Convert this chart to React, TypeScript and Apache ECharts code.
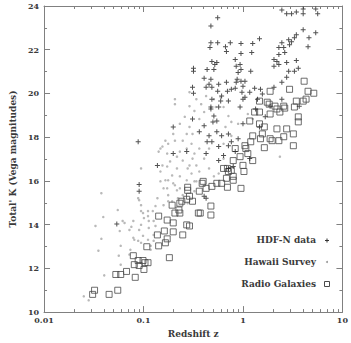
import React, { useEffect, useRef } from "react";
import * as echarts from "echarts";

// [redshift z, total K]
const hdfData: [number, number][] = [
  [2.46, 23.82], [2.75, 23.64], [3.08, 23.64], [3.44, 23.73], [4.03, 23.86], [4.03, 23.64], [5.39, 23.86], [5.64, 23.64],
  [0.557, 23.46], [0.476, 23.09], [0.476, 22.32], [0.466, 22.1], [0.557, 22.32], [0.667, 22.14], [0.682, 21.92],
  [0.746, 22.32], [0.955, 22.28], [1.253, 22.28], [1.466, 22.5], [0.955, 21.83], [1.225, 21.87], [0.318, 21.15],
  [0.318, 21.01], [0.487, 21.46], [0.521, 21.33], [0.546, 21.42], [0.436, 21.1], [0.51, 21.1], [0.836, 21.55],
  [0.935, 21.33], [0.855, 21.24], [0.955, 21.1], [0.894, 20.96], [1.197, 21.01], [0.407, 20.69], [0.476, 20.65],
  [0.456, 20.42], [0.487, 20.28], [0.426, 20.28], [0.57, 20.42], [0.682, 20.51], [0.874, 20.65], [0.955, 20.56],
  [1.0, 20.33], [0.311, 20.28], [0.318, 20.01], [0.557, 20.1], [0.61, 19.88], [0.698, 20.1], [0.836, 20.24],
  [0.977, 20.06], [1.0, 19.74], [0.487, 19.74], [0.597, 19.65], [0.714, 19.65], [0.476, 19.38], [0.57, 19.38],
  [0.935, 19.38], [1.31, 20.24], [1.5, 20.19], [1.17, 20.06], [1.4, 19.74], [1.047, 19.83], [4.03, 22.91],
  [5.39, 22.78], [3.44, 22.69], [3.29, 22.55], [3.08, 22.37], [2.94, 22.23], [2.88, 22.46], [2.46, 22.32],
  [2.296, 22.1], [2.57, 22.1], [4.51, 22.14], [4.61, 22.55], [2.05, 21.55], [2.296, 21.78], [2.63, 21.87],
  [2.194, 21.46], [2.296, 21.33], [2.05, 21.24], [2.75, 21.42], [3.44, 21.51], [2.88, 21.01], [3.29, 21.01],
  [3.6, 21.15], [2.46, 20.51], [2.75, 20.74], [2.05, 20.28], [1.047, 20.56], [0.764, 20.19], [0.855, 20.51],
  [0.199, 18.47], [0.138, 16.71], [0.0884, 17.79], [0.0904, 15.84], [0.0904, 15.53], [0.311, 18.83], [0.476, 19.29],
  [0.499, 18.7], [0.546, 18.74], [0.456, 18.06], [0.546, 18.25], [0.61, 18.06], [0.436, 17.79], [0.57, 17.57],
  [0.714, 17.61], [0.836, 17.34], [0.638, 17.16], [0.426, 17.25], [0.714, 16.57], [0.798, 16.66], [0.57, 16.93],
  [1.17, 17.02], [0.407, 15.3], [0.426, 15.21], [0.51, 18.97], [0.407, 18.52], [0.364, 18.25], [0.487, 17.79],
  [0.764, 17.79], [0.714, 18.15], [1.466, 18.47], [1.875, 19.42], [3.68, 19.42], [0.272, 17.34], [0.199, 17.25],
  [0.0539, 14.03], [0.894, 17.93], [1.0, 18.61], [1.34, 19.29], [1.675, 18.93], [2.46, 19.74], [1.567, 19.97],
];

const hawaiiData: [number, number][] = [
  [0.0251, 10.72], [0.0281, 10.54], [0.0377, 15.44], [0.0394, 14.35], [0.0329, 13.94], [0.0377, 13.35],
  [0.0352, 12.81], [0.0403, 11.68], [0.0551, 14.67], [0.0577, 13.71], [0.059, 13.03], [0.0564, 12.58],
  [0.059, 12.17], [0.0617, 14.17], [0.0645, 14.08], [0.0755, 13.9], [0.079, 14.17], [0.0722, 13.76],
  [0.0904, 13.76], [0.0945, 13.99], [0.079, 13.4], [0.0884, 13.26], [0.0945, 13.17], [0.0738, 12.85],
  [0.0722, 12.63], [0.101, 14.3], [0.113, 14.17], [0.113, 13.85], [0.1265, 14.17], [0.132, 13.94],
  [0.0904, 15.12], [0.0945, 14.89], [0.0945, 14.62], [0.111, 14.62], [0.138, 15.21], [0.124, 14.62],
  [0.132, 14.85], [0.1265, 13.26], [0.0989, 13.49], [0.111, 13.31], [0.118, 13.03], [0.0945, 16.57],
  [0.0884, 15.21], [0.0989, 14.53], [0.111, 14.39], [0.1265, 13.53], [0.0808, 13.31], [0.118, 12.85],
  [0.148, 17.48], [0.177, 17.7], [0.148, 16.43], [0.173, 16.66], [0.166, 16.03], [0.194, 16.25],
  [0.217, 16.57], [0.232, 16.21], [0.173, 15.66], [0.199, 15.89], [0.217, 15.57], [0.177, 15.35],
  [0.159, 14.89], [0.194, 15.07], [0.222, 15.21], [0.248, 15.35], [0.232, 17.34], [0.272, 17.48],
  [0.304, 17.7], [0.248, 17.84], [0.207, 17.84], [0.199, 18.15], [0.272, 18.15], [0.311, 18.15],
  [0.248, 16.93], [0.29, 16.71], [0.311, 17.02], [0.304, 16.34], [0.325, 15.98], [0.272, 16.03],
  [0.325, 15.53], [0.278, 14.98], [0.207, 19.74], [0.207, 19.51], [0.29, 20.06], [0.34, 19.74],
  [0.38, 19.51], [0.166, 17.84], [0.155, 17.57], [0.142, 17.34], [0.173, 17.25], [0.217, 17.11],
  [0.185, 16.89], [0.155, 16.71], [0.278, 16.57], [0.34, 16.71], [0.364, 16.43], [0.34, 15.98],
  [0.207, 15.8], [0.177, 16.03], [0.148, 15.98], [0.232, 15.66], [0.159, 15.66], [0.177, 15.07],
  [0.51, 19.74], [0.597, 19.83], [0.533, 19.38], [0.638, 19.38], [0.714, 18.97], [0.764, 18.7],
  [0.667, 18.47], [0.764, 18.06], [0.407, 17.02], [0.456, 16.57], [0.51, 16.21], [0.364, 17.48],
  [0.325, 17.25], [0.456, 17.48], [0.638, 17.7], [0.894, 18.61], [1.119, 19.06], [1.253, 18.83],
  [0.407, 19.15], [0.325, 19.2], [0.26, 18.93], [0.232, 18.61], [0.29, 18.47], [0.364, 18.83],
  [0.57, 16.34], [0.638, 17.02], [2.35, 17.11], [0.29, 19.42], [0.426, 19.88],
];

const radioData: [number, number][] = [
  [0.0308, 10.81], [0.0322, 11.0], [0.0451, 10.81], [0.0551, 11.0], [0.0527, 11.72], [0.059, 11.72],
  [0.0675, 11.86], [0.0826, 11.59], [0.079, 12.58], [0.0808, 12.17], [0.0904, 12.13], [0.0884, 12.36],
  [0.0989, 12.36], [0.1035, 12.26], [0.111, 12.26], [0.101, 11.95], [0.108, 12.99], [0.142, 13.03],
  [0.182, 12.49], [0.138, 13.53], [0.162, 13.71], [0.173, 13.35], [0.166, 13.17], [0.199, 13.67],
  [0.248, 13.53], [0.142, 14.39], [0.173, 14.21], [0.199, 14.08], [0.194, 14.89], [0.207, 14.53],
  [0.232, 14.53], [0.272, 13.99], [0.29, 13.94], [0.232, 14.98], [0.272, 15.16], [0.311, 15.07],
  [0.278, 15.57], [0.356, 14.53], [0.476, 14.44], [0.476, 14.85], [0.372, 14.53], [0.243, 15.07],
  [0.29, 15.3], [0.227, 14.67], [0.364, 15.53], [0.426, 15.66], [0.389, 15.89], [0.278, 15.71],
  [0.398, 15.98], [0.487, 15.75], [0.546, 15.89], [0.61, 15.89], [0.698, 15.71], [0.955, 15.66],
  [0.682, 16.12], [0.798, 16.03], [0.714, 16.43], [0.764, 16.48], [0.638, 16.57], [1.023, 16.43],
  [0.798, 16.93], [1.0, 16.71], [0.935, 17.11], [1.253, 16.93], [1.119, 17.25], [1.047, 17.61],
  [1.197, 17.79], [1.64, 17.52], [1.5, 17.93], [1.567, 18.15], [1.875, 17.93], [2.296, 17.84],
  [2.57, 18.02], [3.21, 18.15], [3.21, 17.61], [1.17, 18.74], [1.466, 18.61], [1.64, 18.47],
  [2.194, 18.38], [2.75, 18.38], [1.466, 19.15], [1.875, 19.06], [2.35, 19.15], [3.6, 18.93],
  [3.6, 18.7], [1.834, 19.51], [2.194, 19.29], [2.63, 19.33], [3.29, 19.38], [3.44, 19.65],
  [4.03, 19.65], [4.31, 19.74], [1.466, 19.65], [1.754, 19.6], [2.099, 19.42], [2.57, 19.42],
  [1.875, 20.1], [2.94, 20.19], [4.12, 20.56], [4.51, 20.1], [5.15, 20.01], [0.836, 17.48],
  [1.069, 17.48], [1.31, 19.15], [0.698, 16.57], [0.798, 16.21], [1.253, 18.06], [1.963, 17.84],
];

const xMinorTicks: number[] = [
  0.02, 0.03, 0.04, 0.05, 0.06, 0.07, 0.08, 0.09,
  0.2, 0.3, 0.4, 0.5, 0.6, 0.7, 0.8, 0.9,
  2, 3, 4, 5, 6, 7, 8, 9,
];

const legendNames = ["HDF-N data", "Hawaii Survey", "Radio Galaxies"];

const FONT = "DejaVu Serif";
const AXIS = "#808080";
const TEXT = "#3a3a3a";

function fmtLog(v: number): string {
  const e = Math.round(Math.log10(v));
  return e >= 0 ? String(Math.pow(10, e)) : Math.pow(10, e).toFixed(-e);
}

export default function App() {
  const ref = useRef<HTMLDivElement>(null);
  useEffect(() => {
    if (!ref.current) return;
    const chart = echarts.init(ref.current, undefined, { renderer: "svg" });
    const tickStyle = { color: AXIS, width: 1 };
    const baseX = {
      type: "log" as const,
      logBase: 10,
      min: 0.01,
      max: 10,
      splitLine: { show: false },
      gridIndex: 0,
    };
    const baseY = {
      type: "value" as const,
      min: 10,
      max: 24,
      interval: 2,
      splitLine: { show: false },
    };
    chart.setOption({
      animation: false,
      backgroundColor: "#ffffff",
      grid: { left: 40, right: 4, top: 6, bottom: 28, containLabel: false },
      xAxis: [
        {
          ...baseX,
          position: "bottom",
          name: "Redshift z",
          nameLocation: "middle",
          nameGap: 16,
          nameTextStyle: { fontFamily: FONT, fontSize: 9, fontWeight: "bold", color: TEXT },
          axisLine: { show: true, lineStyle: { color: AXIS } },
          axisTick: { show: true, inside: true, length: 6, lineStyle: tickStyle },
          axisLabel: { show: true, margin: 4, fontFamily: FONT, fontSize: 8, fontWeight: "bold", color: TEXT, formatter: fmtLog },
        },
        {
          ...baseX,
          position: "bottom",
          axisLine: { show: false },
          axisTick: { show: true, inside: true, length: 3, lineStyle: tickStyle, customValues: xMinorTicks },
          axisLabel: { show: false },
        },
        {
          ...baseX,
          position: "top",
          axisLine: { show: true, lineStyle: { color: AXIS } },
          axisTick: { show: true, inside: true, length: 6, lineStyle: tickStyle },
          axisLabel: { show: false },
        },
        {
          ...baseX,
          position: "top",
          axisLine: { show: false },
          axisTick: { show: true, inside: true, length: 3, lineStyle: tickStyle, customValues: xMinorTicks },
          axisLabel: { show: false },
        },
      ],
      yAxis: [
        {
          ...baseY,
          position: "left",
          name: "Total' K (Vega magnitudes)",
          nameLocation: "middle",
          nameGap: 20,
          nameTextStyle: { fontFamily: FONT, fontSize: 9, fontWeight: "bold", color: TEXT },
          axisLine: { show: true, lineStyle: { color: AXIS } },
          axisTick: { show: true, inside: true, length: 6, lineStyle: tickStyle },
          minorTick: { show: true, splitNumber: 2, length: 3, lineStyle: tickStyle },
          axisLabel: { show: true, margin: 5, fontFamily: FONT, fontSize: 8, fontWeight: "bold", color: TEXT },
        },
        {
          ...baseY,
          position: "right",
          axisLine: { show: true, lineStyle: { color: AXIS } },
          axisTick: { show: true, inside: true, length: 6, lineStyle: tickStyle },
          minorTick: { show: true, splitNumber: 2, length: 3, lineStyle: tickStyle },
          axisLabel: { show: false },
        },
      ],
      series: [
        {
          name: legendNames[1],
          type: "scatter",
          data: hawaiiData,
          symbol: "circle",
          symbolSize: 2.5,
          itemStyle: { color: "#a8a8a8" },
        },
        {
          name: legendNames[2],
          type: "scatter",
          data: radioData,
          symbol: "rect",
          symbolSize: 6,
          itemStyle: { color: "rgba(0,0,0,0)", borderColor: "#4a4a4a", borderWidth: 1 },
        },
        {
          name: legendNames[0],
          type: "scatter",
          data: hdfData,
          symbol: "path://M4 0h2v4h4v2h-4v4h-2v-4h-4v-2h4z",
          symbolSize: 5,
          itemStyle: { color: "#262626" },
        },
      ],
      graphic: [
        {
          type: "text",
          right: 35, top: 235,
          style: { text: legendNames[0], fontFamily: FONT, fontSize: 9, fontWeight: "bold", fill: TEXT },
        },
        {
          type: "text",
          right: 35, top: 257,
          style: { text: legendNames[1], fontFamily: FONT, fontSize: 9, fontWeight: "bold", fill: TEXT },
        },
        {
          type: "text",
          right: 35, top: 279,
          style: { text: legendNames[2], fontFamily: FONT, fontSize: 9, fontWeight: "bold", fill: TEXT },
        },
        { type: "rect", shape: { x: 326.5, y: 238.5, width: 1, height: 4 }, style: { fill: "#333" } },
        { type: "rect", shape: { x: 325, y: 240, width: 4, height: 1 }, style: { fill: "#333" } },
        { type: "circle", shape: { cx: 327, cy: 262, r: 1 }, style: { fill: "#999" } },
        { type: "rect", shape: { x: 324.5, y: 281.5, width: 5, height: 5 }, style: { fill: "none", stroke: "#4a4a4a", lineWidth: 1 } },
      ],
    });
    return () => chart.dispose();
  }, []);
  return (
    <div
      ref={ref}
      style={{ position: "fixed", left: 0, top: 0, width: 351, height: 343, background: "#fff" }}
    />
  );
}
